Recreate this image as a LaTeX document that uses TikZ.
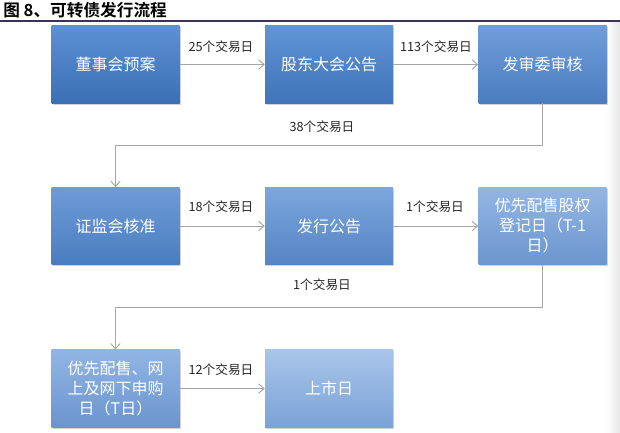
\documentclass[tikz,border=0pt]{standalone}
\usepackage{fontspec}
\newfontfamily\cjk{Noto Sans CJK SC}[BoldFont=* Bold]
\usetikzlibrary{arrows.meta,shadows}
\definecolor{bAt}{HTML}{5C8FD3}\definecolor{bAb}{HTML}{3C70B4}
\definecolor{bBt}{HTML}{6194D5}\definecolor{bBb}{HTML}{4174B8}
\definecolor{bCt}{HTML}{709DD9}\definecolor{bCb}{HTML}{4A7DBF}
\definecolor{bDt}{HTML}{6E9BD8}\definecolor{bDb}{HTML}{4A7DBE}
\definecolor{bEt}{HTML}{7CA6DD}\definecolor{bEb}{HTML}{5685C4}
\definecolor{bFt}{HTML}{93B5E3}\definecolor{bFb}{HTML}{6C96CF}
\definecolor{bGt}{HTML}{91B4E3}\definecolor{bGb}{HTML}{6B95CF}
\definecolor{bHt}{HTML}{A9C5EA}\definecolor{bHb}{HTML}{7BA2D6}
\definecolor{conn}{HTML}{A6A6A6}
\definecolor{titleline}{HTML}{3E2F5C}
\tikzset{
  box/.style={draw=none, minimum width=96pt, minimum height=58pt, inner sep=2pt,
    text=white, align=center, font=\cjk\fontsize{12}{15}\selectfont,
    drop shadow={opacity=0.35, shadow xshift=0.8pt, shadow yshift=-1.2pt}},
  lbl/.style={text=black!85, font=\cjk\fontsize{9.5}{11}\selectfont, inner sep=1pt},
  link/.style={draw=conn, line width=0.7pt, -{Straight Barb[length=4pt,width=7pt]}},
}
\begin{document}
\begin{tikzpicture}[x=0.75pt,y=-0.75pt]
\useasboundingbox (0,0) rectangle (620,432);
\fill[white] (0,0) rectangle (620,432);
\shade[left color=white, right color=black!10] (606,22) rectangle (620,432);
\node[anchor=west, inner sep=0pt, font=\cjk\bfseries\fontsize{12.5}{14}\selectfont] (title) at (3,10) {图 8、可转债发行流程};
\draw[titleline, line width=1.1pt] (0,21) -- (620,21);

\node[box, top color=bAt, bottom color=bAb] (b1) at (115.5,64.5) {董事会预案};
\node[box, top color=bBt, bottom color=bBb] (b2) at (329,64.5) {股东大会公告};
\node[box, top color=bCt, bottom color=bCb] (b3) at (542.5,64.5) {发审委审核};
\node[box, top color=bDt, bottom color=bDb] (b4) at (115.5,226) {证监会核准};
\node[box, top color=bEt, bottom color=bEb] (b5) at (329,226) {发行公告};
\node[box, top color=bFt, bottom color=bFb] (b6) at (542.5,226) {优先配售股权\\登记日（T-1\\日）};
\node[box, top color=bGt, bottom color=bGb] (b7) at (115.5,388.5) {优先配售、网\\上及网下申购\\日（T日）};
\node[box, top color=bHt, bottom color=bHb] (b8) at (329,388.5) {上市日};

\coordinate (k1) at (542.5,145);
\coordinate (k2) at (115.5,145);
\coordinate (k3) at (542.5,307);
\coordinate (k4) at (115.5,307);

\draw[link] (b1) -- (b2);
\draw[link] (b2) -- (b3);
\draw[link] (b3.south) -- (k1) -- (k2) -- (b4.north);
\draw[link] (b4) -- (b5);
\draw[link] (b5) -- (b6);
\draw[link] (b6.south) -- (k3) -- (k4) -- (b7.north);
\draw[link] (b7) -- (b8);

\node[lbl] (l1) at (221,47) {25个交易日};
\node[lbl] (l2) at (436,47) {113个交易日};
\node[lbl] (l3) at (322,127) {38个交易日};
\node[lbl] (l4) at (221,207) {18个交易日};
\node[lbl] (l5) at (435,207) {1个交易日};
\node[lbl] (l6) at (322,285) {1个交易日};
\node[lbl] (l7) at (221,370) {12个交易日};
\end{tikzpicture}
\end{document}
